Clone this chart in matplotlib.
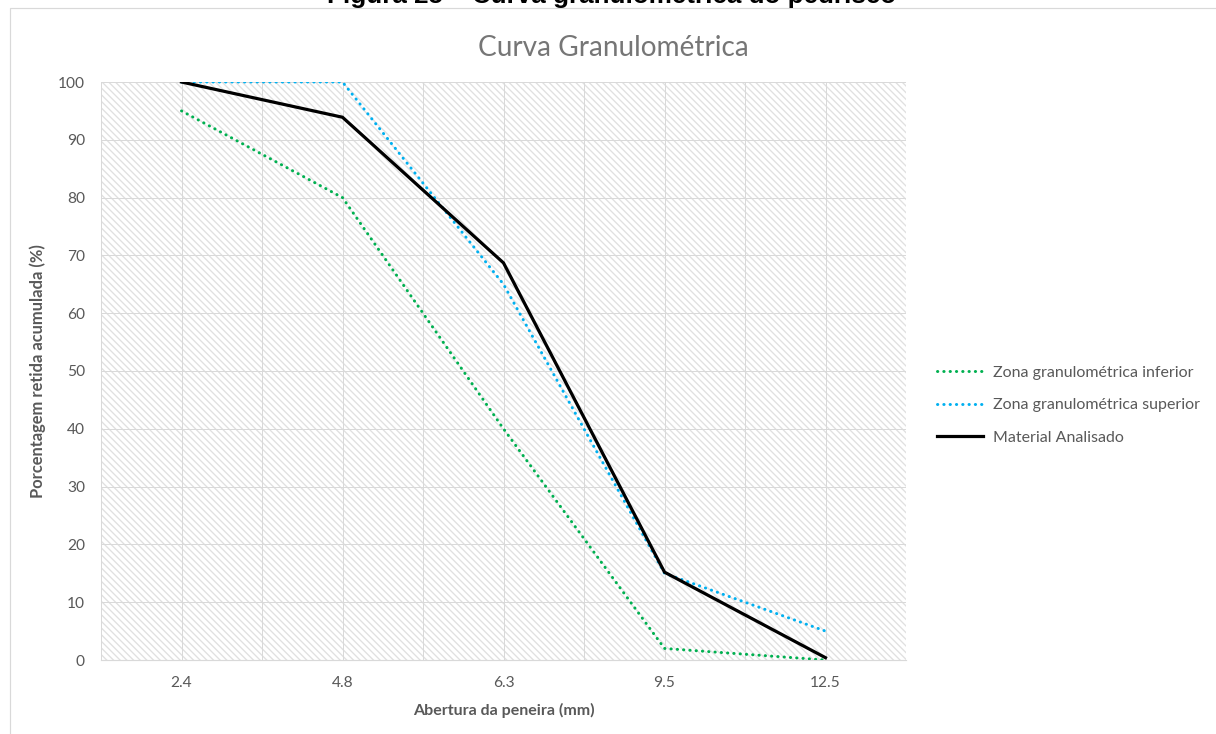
import matplotlib
matplotlib.use("Agg")
import matplotlib.pyplot as plt
from matplotlib.patches import Rectangle

# ── Data ──────────────────────────────────────────────────────────────────────
aberturas = ["2.4", "4.8", "6.3", "9.5", "12.5"]
zona_inferior = [95, 80, 40, 2, 0]
zona_superior = [100, 100, 65, 15, 5]
material = [100, 93.9, 68.7, 15.2, 0.4]

# ── Style ─────────────────────────────────────────────────────────────────────
W, H, DPI = 1216, 734, 80
PT = 72 / DPI                      # px -> pt
TXT = "#595959"
GRID = "#d9d9d9"
HATCH = "#e0e0e0"
FONT = ["Lato", "DejaVu Sans"]

plt.rcParams["font.family"] = FONT
plt.rcParams["hatch.linewidth"] = 1.2
plt.rcParams["hatch.color"] = HATCH

fig = plt.figure(figsize=(W / DPI, H / DPI), dpi=DPI, facecolor="white")

# plot area in pixels: left 101, right 906, top 82, bottom 660
ax = fig.add_axes([101 / W, 1 - 660 / H, 805 / W, 578 / H])
ax.set_facecolor("white")
ax.set_axisbelow(True)

bg = Rectangle((0, 0), 1, 1, transform=ax.transAxes, facecolor="white",
               edgecolor=HATCH, hatch="\\\\\\\\", lw=0, zorder=0)
ax.add_patch(bg)

x = list(range(len(aberturas)))
dots = (0, (0.1, 2.0))
ax.plot(x, zona_inferior, color="#00b050", lw=3 * PT, ls=dots,
        dash_capstyle="round", label="Zona granulométrica inferior", zorder=3)
ax.plot(x, zona_superior, color="#00b0f0", lw=3 * PT, ls=dots,
        dash_capstyle="round", label="Zona granulométrica superior", zorder=3)
ax.plot(x, material, color="black", lw=3.2 * PT, solid_joinstyle="miter",
        label="Material Analisado", zorder=4)

ax.set_xlim(-0.5, len(aberturas) - 0.5)
ax.set_ylim(0, 100)
ax.set_xticks(x)
ax.set_xticklabels(aberturas)
ax.set_xticks([i - 0.5 for i in range(len(aberturas) + 1)], minor=True)
ax.set_yticks(range(0, 101, 10))

ax.grid(True, which="both", color=GRID, lw=1 * PT)
ax.tick_params(which="both", length=0, colors=TXT, labelsize=15.5 * PT)
ax.tick_params(axis="y", pad=16 * PT)
ax.tick_params(axis="x", pad=16 * PT)
for side in ["top", "right", "left"]:
    ax.spines[side].set_visible(False)
ax.spines["bottom"].set_color(GRID)
ax.spines["bottom"].set_linewidth(1.2 * PT)

ax.set_xlabel("Abertura da peneira (mm)", color=TXT, fontsize=16 * PT,
              fontweight="bold", labelpad=13 * PT)
ax.set_ylabel("Porcentagem retida acumulada (%)", color=TXT,
              fontsize=16.5 * PT, fontweight="bold", labelpad=12 * PT)

# legend on the right
fig.legend(loc="center left", bbox_to_anchor=(937 / W, 1 - 405 / H),
           frameon=False, fontsize=16 * PT, labelcolor=TXT,
           borderpad=0, borderaxespad=0,
           handlelength=2.9, handletextpad=0.6, labelspacing=1.15)

# chart title and caption
fig.text(613 / W, 1 - 48 / H, "Curva Granulométrica", ha="center",
         va="center", fontsize=28 * PT, color="#767676")
fig.text(612 / W, 1 - 3 / H, "Figura 25 – Curva granulométrica do pedrisco",
         ha="center", va="baseline", fontsize=26 * PT, fontweight="bold",
         family=["Liberation Sans", "DejaVu Sans"], color="black")

# chart frame
fig.add_artist(Rectangle((10 / W, -0.1), 1.2, 1.1 - 8 / H,
                         transform=fig.transFigure, fill=False,
                         edgecolor=GRID, lw=1.2 * PT))

fig.savefig("out.png", dpi=DPI, facecolor="white")
